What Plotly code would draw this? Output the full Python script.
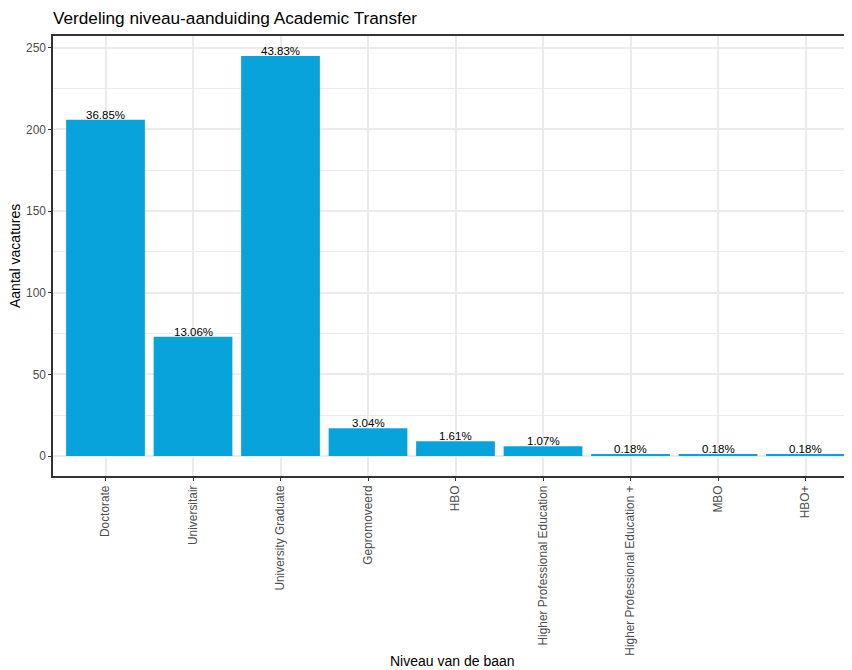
import plotly.graph_objects as go

categories = ["Doctorate", "Universitair", "University Graduate", "Gepromoveerd", "HBO",
              "Higher Professional Education", "Higher Professional Education +", "MBO", "HBO+"]
counts = [206, 73, 245, 17, 9, 6, 1, 1, 1]
y_ticks = [0, 50, 100, 150, 200, 250]

total = sum(counts)
pct_labels = [f"{c / total * 100:.2f}%" for c in counts]

# page body has an 8px default margin; compensate
OFF = 8
W, H = 852 - OFF, 670 - OFF
ml, mr, mt, mb = 53 - OFF, 0, 36 - OFF, 194
FONT = "Liberation Sans, Arial, Helvetica, sans-serif"
BAR = "#08A3DA"

fig = go.Figure()
fig.add_trace(go.Bar(x=categories, y=counts, marker=dict(color=BAR, line=dict(width=0)),
                     width=0.9, hoverinfo="x+y"))

for cat, c, lab in zip(categories, counts, pct_labels):
    fig.add_annotation(x=cat, y=c, text=lab, showarrow=False, xref="x", yref="y",
                       yanchor="bottom", yshift=-3,
                       font=dict(family=FONT, size=11.5, color="black"))

# axis titles
fig.add_annotation(text="Niveau van de baan", x=0.5, y=0, xref="paper", yref="paper",
                   xanchor="center", yanchor="top", yshift=-175, showarrow=False,
                   font=dict(family=FONT, size=14, color="black"))
fig.add_annotation(text="Aantal vacatures", x=0, y=0.5, xref="paper", yref="paper",
                   xanchor="center", yanchor="middle", xshift=-38, textangle=-90,
                   showarrow=False, font=dict(family=FONT, size=14, color="black"))

ymax = max(counts)
fig.update_layout(
    width=W, height=H,
    margin=dict(l=ml, r=mr, t=mt, b=mb, autoexpand=False),
    paper_bgcolor="white", plot_bgcolor="white",
    showlegend=False,
    bargap=0.1,
    title=dict(text="Verdeling niveau-aanduiding Academic Transfer", x=0, xref="paper",
               xanchor="left", y=1 - (18 - OFF) / H, yref="container", yanchor="middle",
               font=dict(family=FONT, size=17.2, color="black")),
    font=dict(family=FONT),
)
fig.update_xaxes(
    type="category", range=[-0.6, len(categories) - 1 + 0.6 - 6 / 87.5],
    showgrid=True, gridcolor="#EBEBEB", gridwidth=1.5,
    showline=True, linecolor="#333333", linewidth=1.5, mirror=True,
    ticks="outside", ticklen=3, tickwidth=1.2, tickcolor="#333333",
    tickangle=-90, tickfont=dict(family=FONT, size=11.9, color="#4D4D4D"),
    zeroline=False, automargin=False,
)
fig.update_yaxes(
    range=[-0.05 * ymax, ymax * 1.05], tickvals=y_ticks,
    showgrid=True, gridcolor="#EBEBEB", gridwidth=1.5,
    minor=dict(dtick=25, showgrid=True, gridcolor="#EBEBEB", gridwidth=0.8),
    showline=True, linecolor="#333333", linewidth=1.5, mirror=False,
    ticks="outside", ticklen=3, tickwidth=1.2, tickcolor="#333333",
    tickfont=dict(family=FONT, size=11.9, color="#4D4D4D"),
    zeroline=False, automargin=False,
)

fig.write_html("out.html")
